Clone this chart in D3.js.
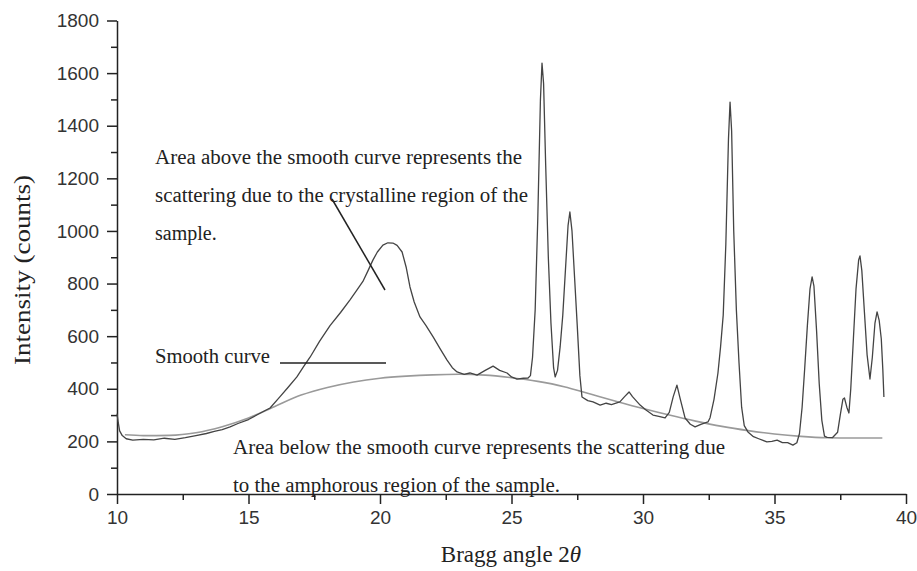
<!DOCTYPE html>
<html>
<head>
<meta charset="utf-8">
<script src="https://cdn.jsdelivr.net/npm/d3@7"></script>
<style>
    body { margin: 0; background: #fff; }
    .axis path, .axis line { stroke: #222; stroke-width: 1.5; }
    .axis text { font-family: Arial, "Liberation Sans", sans-serif; font-size: 19px; fill: #333; }
    .note { font-family: "Liberation Serif", "Times New Roman", serif; font-size: 20px; fill: #222; }
    .title { font-family: "Liberation Serif", "Times New Roman", serif; font-size: 23px; fill: #222; }
</style>
</head>
<body>
<div id="chart"></div>
<script>

// measured pattern (2theta, counts)
var braggAngle = [10.0, 10.05, 10.1, 10.2, 10.35, 10.6, 11.0, 11.4, 11.8, 12.2, 12.6, 13.0, 13.4, 13.7,
    14.0, 14.3, 14.6, 15.0, 15.4, 15.82, 16.2, 16.5, 16.84, 17.1, 17.34, 17.7, 18.1, 18.5, 18.86, 19.1,
    19.35, 19.55, 19.73, 19.9, 20.11, 20.3, 20.49, 20.65, 20.84, 21.0, 21.14, 21.3, 21.52, 21.75, 22.02,
    22.3, 22.55, 22.75, 22.93, 23.2, 23.42, 23.69, 24.0, 24.3, 24.55, 24.83, 25.0, 25.21, 25.45, 25.63,
    25.72, 25.8, 25.9, 26.0, 26.1, 26.16, 26.22, 26.3, 26.4, 26.5, 26.6, 26.66,
    26.75, 26.85, 26.95, 27.05, 27.15, 27.22, 27.3, 27.4, 27.5, 27.6, 27.68,
    27.9, 28.1, 28.37, 28.6, 28.8, 29.12, 29.3, 29.47, 29.6, 29.89, 30.1, 30.38, 30.6, 30.84, 31.0,
    31.15, 31.29, 31.42, 31.6, 31.8, 31.98, 32.2, 32.47, 32.55, 32.7, 32.85, 32.95, 33.05, 33.15,
    33.25, 33.31, 33.37, 33.45, 33.55, 33.65, 33.75, 33.85, 33.99, 34.2, 34.4, 34.71, 34.9, 35.1,
    35.3, 35.5, 35.7, 35.85, 35.95, 36.05, 36.15, 36.25, 36.35, 36.43, 36.5, 36.6, 36.7, 36.8, 36.9,
    37.0, 37.2, 37.4, 37.5, 37.6, 37.66, 37.75, 37.83, 37.9, 38.0, 38.1, 38.2, 38.25, 38.32, 38.42,
    38.52, 38.63, 38.72, 38.82, 38.9, 38.98, 39.06, 39.12, 39.16];

var intensity = [305, 270, 240, 222, 210, 205, 208, 206, 212, 208, 214, 222, 230, 238,
    245, 255, 268, 283, 305, 327, 370, 405, 445, 485, 520, 580, 640, 690, 738, 772,
    808, 850, 889, 920, 946, 955, 954, 945, 920, 860, 787, 730, 673, 640, 597,
    550, 509, 480, 464, 455, 460, 452, 470, 486, 470, 460, 445, 437, 440, 441,
    450, 520, 700, 1050, 1500, 1638, 1560, 1250, 900, 650, 480, 445,
    470, 560, 680, 850, 1020, 1072, 1000, 820, 640, 450, 369,
    355, 350, 338, 345, 340, 350, 370, 388, 370, 338, 320, 300, 295, 289, 310,
    370, 414, 360, 289, 265, 255, 265, 274, 290, 360, 460, 560, 680, 950,
    1350, 1490, 1380, 1000, 700, 500, 330, 260, 236, 218, 210, 198, 200, 205,
    195, 195, 186, 195, 230, 330, 480, 640, 780, 825, 790, 620, 420, 280, 220,
    215, 214, 235, 300, 360, 365, 330, 308, 400, 590, 780, 890, 905, 850, 690,
    530, 437, 520, 650, 692, 660, 590, 470, 369];

// the smooth (amorphous) background curve
var smoothAngle = [10.3, 11, 12, 13, 14, 15, 16, 17, 18, 19, 20, 21, 22, 23, 24, 25, 26, 27, 28,
    29, 30, 31, 32, 33, 34, 35, 36, 37, 38, 39.1];
var smoothIntensity = [225, 222, 223, 233, 256, 289, 333, 376, 405, 426, 440, 448, 453, 455, 452,
    442, 428, 408, 380, 352, 325, 300, 277, 257, 241, 228, 219, 214, 213, 213];

var xTicks = [10, 15, 20, 25, 30, 35, 40];
var xMinorTicks = [12.5, 17.5, 22.5, 27.5, 32.5, 37.5];
var yTicks = [0, 200, 400, 600, 800, 1000, 1200, 1400, 1600, 1800];
var yMinorTicks = [100, 300, 500, 700, 900, 1100, 1300, 1500, 1700];

var aboveNote = ["Area above the smooth curve represents the",
    "scattering due to the crystalline region of the",
    "sample."];
var belowNote = ["Area below the smooth curve represents the scattering due",
    "to the amphorous region of the sample."];


XrdChart = function(_parentElement) {
    this.parentElement = _parentElement;
    this.data = braggAngle.map(function(d, i) { return {x: d, y: intensity[i]}; });
    this.smooth = smoothAngle.map(function(d, i) { return {x: d, y: smoothIntensity[i]}; });

    this.initVis();
};

XrdChart.prototype.initVis = function() {
    var vis = this;

    vis.margin = {top: 20.5, right: 11, bottom: 77, left: 117};
    vis.width = 917 - vis.margin.left - vis.margin.right;
    vis.height = 571 - vis.margin.top - vis.margin.bottom;

    vis.svg = d3.select("#" + vis.parentElement).append("svg")
        .attr("width", 917)
        .attr("height", 571);

    vis.g = vis.svg.append("g")
        .attr("transform", "translate(" + vis.margin.left + "," + vis.margin.top + ")");

    vis.x = d3.scaleLinear().domain([10, 40]).range([0, vis.width]);
    vis.y = d3.scaleLinear().domain([0, 1800]).range([vis.height, 0]);

    // minor ticks first, majors on top
    vis.g.append("g").attr("class", "axis")
        .attr("transform", "translate(0," + vis.height + ")")
        .call(d3.axisBottom(vis.x).tickValues(xMinorTicks).tickSize(6).tickFormat(""))
        .select(".domain").remove();
    vis.g.append("g").attr("class", "axis")
        .call(d3.axisLeft(vis.y).tickValues(yMinorTicks).tickSize(6).tickFormat(""))
        .select(".domain").remove();

    vis.g.append("g").attr("class", "axis")
        .attr("transform", "translate(0," + vis.height + ")")
        .call(d3.axisBottom(vis.x).tickValues(xTicks).tickSize(10).tickPadding(7)
            .tickSizeOuter(0).tickFormat(d3.format("d")));
    vis.g.append("g").attr("class", "axis")
        .call(d3.axisLeft(vis.y).tickValues(yTicks).tickSize(10).tickPadding(8)
            .tickSizeOuter(0).tickFormat(d3.format("d")));

    // axis titles
    vis.svg.append("text").attr("class", "title")
        .attr("x", 511).attr("y", 562)
        .attr("text-anchor", "middle")
        .html('Bragg angle 2<tspan font-style="italic">θ</tspan>');

    vis.svg.append("text").attr("class", "title")
        .attr("transform", "translate(30,270) rotate(-90)")
        .attr("text-anchor", "middle")
        .attr("textLength", 190)
        .attr("lengthAdjust", "spacingAndGlyphs")
        .text("Intensity (counts)");

    vis.updateVis();
};

XrdChart.prototype.updateVis = function() {
    var vis = this;

    var line = d3.line()
        .x(function(d) { return vis.x(d.x); })
        .y(function(d) { return vis.y(d.y); });

    vis.g.append("path")
        .datum(vis.smooth)
        .attr("fill", "none")
        .attr("stroke", "#9a9a9a")
        .attr("stroke-width", 1.6)
        .attr("d", line.curve(d3.curveMonotoneX));

    vis.g.append("path")
        .datum(vis.data)
        .attr("fill", "none")
        .attr("stroke", "#444")
        .attr("stroke-width", 1.3)
        .attr("stroke-linejoin", "round")
        .attr("d", line.curve(d3.curveLinear));

    // annotations
    var widths = [367, 373, 0];
    vis.svg.selectAll(".noteAbove")
        .data(aboveNote)
        .enter().append("text")
        .attr("class", "note noteAbove")
        .attr("x", 155)
        .attr("y", function(d, i) { return 164 + i * 38; })
        .each(function(d, i) {
            if (widths[i]) d3.select(this).attr("textLength", widths[i]).attr("lengthAdjust", "spacingAndGlyphs");
        })
        .text(function(d) { return d; });

    var widths2 = [492, 327];
    vis.svg.selectAll(".noteBelow")
        .data(belowNote)
        .enter().append("text")
        .attr("class", "note noteBelow")
        .attr("x", 233)
        .attr("y", function(d, i) { return 454 + i * 38; })
        .attr("textLength", function(d, i) { return widths2[i]; })
        .attr("lengthAdjust", "spacingAndGlyphs")
        .text(function(d) { return d; });

    vis.svg.append("text")
        .attr("class", "note")
        .attr("x", 155).attr("y", 363)
        .attr("textLength", 115)
        .attr("lengthAdjust", "spacingAndGlyphs")
        .text("Smooth curve");

    // pointer lines
    vis.svg.append("line")
        .attr("x1", 280).attr("y1", 363).attr("x2", 386).attr("y2", 363)
        .attr("stroke", "#222").attr("stroke-width", 1.5);
    vis.svg.append("line")
        .attr("x1", 332).attr("y1", 199).attr("x2", 385).attr("y2", 290)
        .attr("stroke", "#222").attr("stroke-width", 1.5);
};

new XrdChart("chart");
</script>
</body>
</html>
